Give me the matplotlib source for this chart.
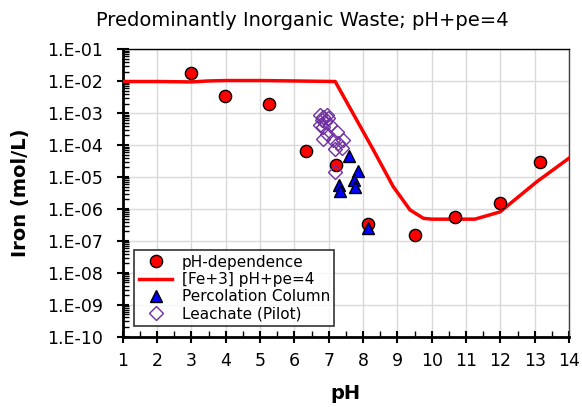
import math
import matplotlib
matplotlib.use("Agg")
import matplotlib.pyplot as plt
from matplotlib.ticker import LogLocator, FixedLocator, MultipleLocator, FuncFormatter

plt.rcParams['font.family'] = ['DejaVu Sans']

# pH-dependence test results
ph_dep_ph = [3.0, 3.99, 5.25, 6.34, 7.21, 8.15, 9.5, 10.68, 11.99, 13.16]
ph_dep_fe = [1.85e-2, 3.5e-3, 1.95e-3, 6.6e-5, 2.3e-5, 3.4e-7, 1.56e-7, 5.7e-7, 1.5e-6, 2.9e-5]

# Modelled Fe(+3) solubility, pH+pe=4
model_ph = [1.0, 2.0, 3.0, 3.5, 4.0, 5.0, 6.0, 7.19, 8.30, 8.88, 9.37, 9.76, 10.0, 11.26, 11.99, 13.06, 14.0]
model_fe = [9.8e-3, 9.8e-3, 9.5e-3, 1.02e-2, 1.05e-2, 1.05e-2, 1.02e-2, 9.8e-3,
            7.1e-5, 5.0e-6, 9.3e-7, 5.1e-7, 4.8e-7, 4.8e-7, 8.1e-7, 7.1e-6, 3.9e-5]

# Percolation column eluates
perc_ph = [7.59, 7.86, 7.74, 7.77, 7.31, 7.34, 8.15]
perc_fe = [4.4e-5, 1.6e-5, 8.1e-6, 4.8e-6, 5.6e-6, 3.6e-6, 2.6e-7]

# Pilot-scale leachate
leach_ph = [6.75, 6.84, 6.94, 6.80, 6.89, 6.99, 6.75, 6.84, 7.04, 7.23, 6.94, 6.84,
            7.13, 7.28, 7.43, 7.38, 7.18, 7.18]
leach_fe = [8.7e-4, 7.8e-4, 8.7e-4, 6.2e-4, 5.4e-4, 6.9e-4, 4.3e-4, 3.8e-4, 4.3e-4,
            2.6e-4, 2.3e-4, 1.6e-4, 1.45e-4, 1.15e-4, 1.45e-4, 7.9e-5, 7.4e-5, 1.4e-5]

x_ticks = list(range(1, 15))
y_min, y_max = 1e-10, 1e-1

fig = plt.figure(figsize=(5.82, 4.07), dpi=100)
ax = fig.add_axes([0.2108, 0.1727, 0.9777 - 0.2108, 0.8789 - 0.1727])

ax.plot(ph_dep_ph, ph_dep_fe, 'o', color='#ff0000', mec='black', mew=1.0, ms=8.8,
        label='pH-dependence', zorder=4)
ax.plot(model_ph, model_fe, '-', color='#ff0000', lw=2.5, label='[Fe+3] pH+pe=4', zorder=3)
ax.plot(perc_ph, perc_fe, '^', color='#0000ff', mec='black', mew=1.0, ms=9,
        label='Percolation Column', zorder=5)
ax.plot(leach_ph, leach_fe, 'D', mfc='none', mec='#7030a0', mew=1.0, ms=7,
        label='Leachate (Pilot)', zorder=6)

ax.set_yscale('log')
ax.set_xlim(1, 14)
ax.set_ylim(y_min, y_max)
ax.xaxis.set_major_locator(FixedLocator(x_ticks))
ax.xaxis.set_minor_locator(MultipleLocator(0.5))
ax.yaxis.set_major_locator(LogLocator(base=10, numticks=20))
ax.yaxis.set_minor_locator(LogLocator(base=10, subs=[2, 3, 4, 5, 6, 7, 8, 9], numticks=20))
ax.yaxis.set_major_formatter(FuncFormatter(lambda v, p: '1.E-%02d' % round(-math.log10(v))))

ax.grid(True, which='major', color='#d9d9d9', lw=1.0, zorder=0)
ax.set_axisbelow(True)

for side in ['left', 'bottom']:
    ax.spines[side].set_linewidth(2.0)
    ax.spines[side].set_color('black')
ax.spines['top'].set_linewidth(1.0)
ax.spines['right'].set_linewidth(1.0)
ax.spines['right'].set_color('#404040')

ax.tick_params(axis='both', which='major', direction='inout', length=8, width=1.5,
               labelsize=12.5)
ax.tick_params(axis='y', which='major', pad=10)
ax.tick_params(axis='x', which='major', pad=7)
ax.tick_params(axis='both', which='minor', direction='in', length=4, width=1.0)

ax.set_xlabel('pH', fontsize=14, fontweight='bold', va='center')
ax.set_ylabel('Iron (mol/L)', fontsize=14, fontweight='bold', va='center')
ax.xaxis.set_label_coords(0.5, -0.196)
ax.yaxis.set_label_coords(-0.230, 0.5)
fig.text(302 / 582, 1 - 20 / 407, 'Predominantly Inorganic Waste; pH+pe=4',
         ha='center', va='center', fontsize=14)

leg = ax.legend(loc='lower left', bbox_to_anchor=(0.026, 0.037), fontsize=11,
                frameon=True, fancybox=False, borderpad=0.3, labelspacing=0.15,
                handlelength=2.2, handletextpad=0.6, borderaxespad=0)
leg.get_frame().set_edgecolor('black')
leg.get_frame().set_linewidth(1.2)

fig.savefig('out.png', dpi=100)
